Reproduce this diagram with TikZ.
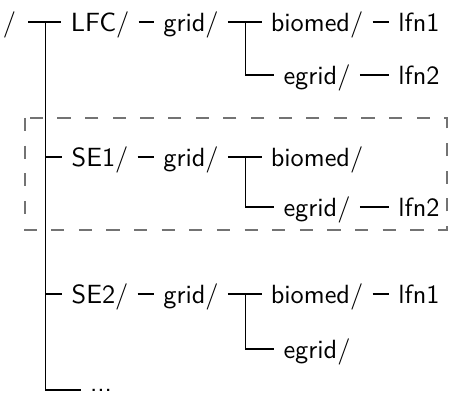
\documentclass[tikz,border=0pt]{standalone}
\usepackage{tikz}
\usetikzlibrary{positioning}
\renewcommand{\familydefault}{\sfdefault}

\begin{document}
\begin{tikzpicture}[
    x=0.38pt, y=-0.38pt,
    every node/.style={inner ysep=0pt, text height=7pt, text depth=0pt},
    group/.style={draw=black!55, dash pattern=on 5pt off 5.5pt}
]
\useasboundingbox (0,0) rectangle (450,393);

% site frame
\draw[group] (25,118) rectangle (447,230);

% root and its trunk
\node[inner xsep=4.5pt] (root) at (9.5,22) {/};
\coordinate (trunk) at (45.5,22);

% LFC
\node (lfc) at (100,22) {LFC/};
\node (lfcgrid) at (191,22) {grid/};
\coordinate (lfcfork) at (245.7,22);
\node (lfcbiomed) at (317,22) {biomed/};
\node (lfcegrid) at (317,75) {egrid/};
\node (lfcfa) at (419,22) {lfn1};
\node (lfcfb) at (419,75) {lfn2};

% SE1
\node (sea) at (100,157) {SE1/};
\node (seagrid) at (191,157) {grid/};
\coordinate (seafork) at (245.7,157);
\node (seabiomed) at (317,157) {biomed/};
\node (seaegrid) at (317,207) {egrid/};
\node (seafb) at (419,207) {lfn2};

% SE2
\node (seb) at (100,294) {SE2/};
\node (sebgrid) at (191,294) {grid/};
\coordinate (sebfork) at (245.7,294);
\node (sebbiomed) at (317,294) {biomed/};
\node (sebegrid) at (317,349) {egrid/};
\node (sebfa) at (419,294) {lfn1};

\node[text height=, text depth=] (dots) at (101,390) {...};

% connectors
\draw (root.east) -- (lfc.west);
\draw (trunk) |- (sea.west);
\draw (trunk) |- (seb.west);
\draw (trunk) |- (dots.west);

\draw (lfc) -- (lfcgrid);
\draw (lfcgrid.east) -- (lfcbiomed.west) (lfcfork) |- (lfcegrid.west);
\draw (lfcbiomed) -- (lfcfa);
\draw (lfcegrid) -- (lfcfb);

\draw (sea) -- (seagrid);
\draw (seagrid.east) -- (seabiomed.west) (seafork) |- (seaegrid.west);
\draw (seaegrid) -- (seafb);

\draw (seb) -- (sebgrid);
\draw (sebgrid.east) -- (sebbiomed.west) (sebfork) |- (sebegrid.west);
\draw (sebbiomed) -- (sebfa);

\end{tikzpicture}
\end{document}
